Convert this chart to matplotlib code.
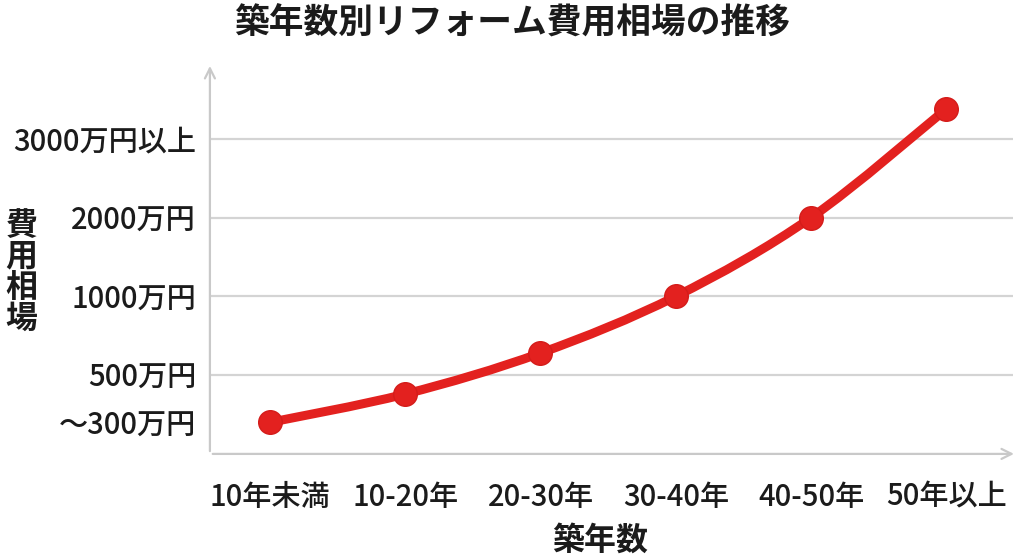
import numpy as np
import matplotlib
matplotlib.use("Agg")
import matplotlib.pyplot as plt
from matplotlib.path import Path
from matplotlib.patches import PathPatch

plt.rcParams['font.family'] = ['Noto Sans CJK JP', 'DejaVu Sans']

# data
age_labels = ["10年未満", "10-20年", "20-30年", "30-40年", "40-50年", "50年以上"]
cost_values = [300, 420, 640, 1000, 2000, 3380]  # 万円
tick_values = [300, 500, 1000, 2000, 3000]
tick_labels = ["～300万円", "500万円", "1000万円", "2000万円", "3000万円以上"]
grid_values = [500, 1000, 2000, 3000]

# the y axis is not linear: each band gets the same height
band_values = [0, 300, 500, 1000, 2000, 3000, 4000]
band_levels = [0, 0.4, 1, 2, 3, 4, 5]


def to_level(v):
    return np.interp(v, band_values, band_levels)


def from_level(v):
    return np.interp(v, band_levels, band_values)


red = "#e3211f"
axis_grey = "#c9c9c9"
text_col = "#1b1b1b"

fig = plt.figure(figsize=(10.24, 5.59), dpi=100)
ax = fig.add_axes([0.205, 0.188, 0.784, 0.699])
ax.set_yscale("function", functions=(to_level, from_level))

x = np.arange(len(age_labels))

# smooth line through the points (catmull-rom as bezier, built in level space)
lv = to_level(np.array(cost_values, dtype=float))
pts = np.column_stack([x, lv])
ext = np.vstack([pts[0], pts, pts[-1]])
verts = [tuple(pts[0])]
codes = [Path.MOVETO]
for i in range(len(pts) - 1):
    p0, p1, p2, p3 = ext[i], ext[i + 1], ext[i + 2], ext[i + 3]
    c1 = p1 + (p2 - p0) / 6
    c2 = p2 - (p3 - p1) / 6
    verts += [tuple(c1), tuple(c2), tuple(p2)]
    codes += [Path.CURVE4] * 3
verts = np.array(verts)
verts[:, 1] = from_level(verts[:, 1])
ax.add_patch(PathPatch(Path(verts, codes), fc="none", ec=red, lw=6.5,
                       capstyle="round", joinstyle="round", zorder=3))
ax.plot(x, cost_values, "o", color=red, ms=17, mec="#d41c1a", mew=1, zorder=4)

for g in grid_values:
    ax.axhline(g, color="#d4d4d4", lw=1.6, zorder=1)

ax.set_xlim(-0.443, 5.49)
ax.set_ylim(from_level(0.0), from_level(4.96))

ax.set_xticks(x)
ax.set_xticklabels(age_labels, fontsize=21, color=text_col, fontweight="medium")
ax.set_yticks(tick_values)
ax.set_yticklabels(tick_labels, fontsize=21, color=text_col, fontweight="medium")
ax.minorticks_off()
ax.tick_params(length=0, pad=10)
ax.tick_params(axis="x", pad=20)

for s in ["top", "right", "left", "bottom"]:
    ax.spines[s].set_visible(False)

# axis lines with arrow heads
ax.annotate("", xy=(0, 1.0), xytext=(0, 0), xycoords="axes fraction",
            arrowprops=dict(arrowstyle="->", color=axis_grey, lw=1.6, mutation_scale=18))
ax.annotate("", xy=(1.005, 0), xytext=(0, 0), xycoords="axes fraction",
            arrowprops=dict(arrowstyle="->", color=axis_grey, lw=1.6, mutation_scale=18))

fig.text(0.5, 0.958, "築年数別リフォーム費用相場の推移", ha="center", va="center",
         fontsize=25, fontweight="bold", color=text_col)
fig.text(0.586, 0.032, "築年数", ha="center", va="center",
         fontsize=23, fontweight="bold", color=text_col)
fig.text(0.021, 0.513, "費\n用\n相\n場", ha="center", va="center",
         fontsize=23, fontweight="bold", color=text_col, linespacing=0.95)

fig.savefig("out.png", dpi=100, facecolor="white")
